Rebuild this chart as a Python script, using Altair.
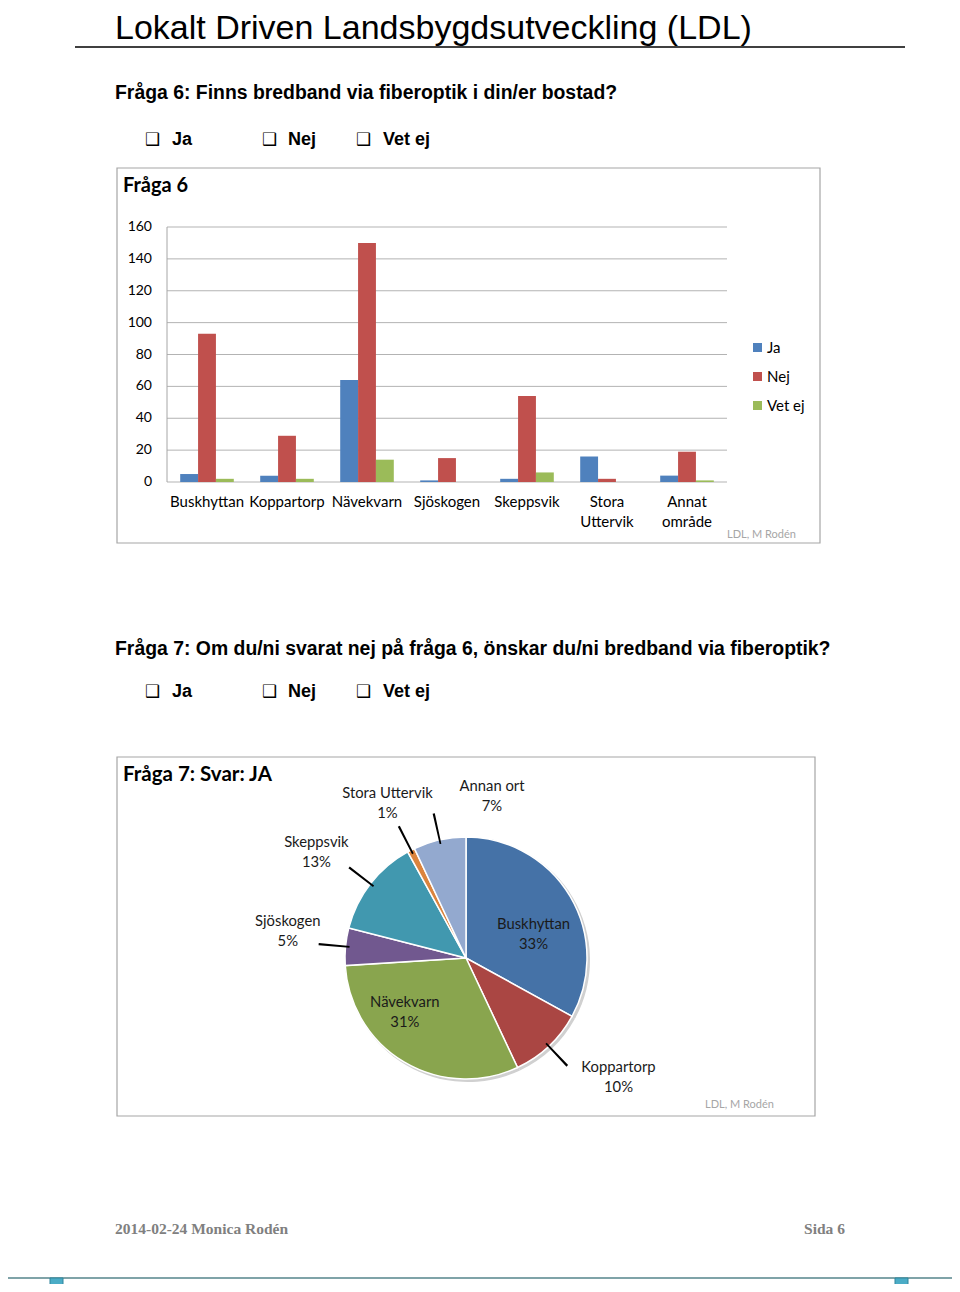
import altair as alt
import pandas as pd

# ---------------- data ----------------
# Fråga 6 (grouped bars)
areas = ["Buskhyttan", "Koppartorp", "Nävekvarn", "Sjöskogen", "Skeppsvik", "Stora Uttervik", "Annat område"]
area_labels = ["Buskhyttan", "Koppartorp", "Nävekvarn", "Sjöskogen", "Skeppsvik", "Stora\nUttervik", "Annat\nområde"]
answers = ["Ja", "Nej", "Vet ej"]
ja = [5, 4, 64, 1, 2, 16, 4]
nej = [93, 29, 150, 15, 54, 2, 19]
vet_ej = [2, 2, 14, 0, 6, 0, 1]
y_ticks = [0, 20, 40, 60, 80, 100, 120, 140, 160]

# Fråga 7 (pie, percent)
pie_cats = ["Buskhyttan", "Koppartorp", "Nävekvarn", "Sjöskogen", "Skeppsvik", "Stora Uttervik", "Annan ort"]
pie_pct = [33, 10, 31, 5, 13, 1, 7]

# ---------------- styles ----------------
bar_colors = ["#4F81BD", "#C0504D", "#9BBB59"]
pie_colors = ["#4572A7", "#AA4643", "#89A54E", "#71588F", "#4198AF", "#DB843D", "#93A9CF"]
CHART_FONT = "Lato"
DOC_FONT = "Liberation Sans"

bar_df = pd.DataFrame(
    [{"area": a, "answer": ans, "value": v}
     for ans, vals in zip(answers, [ja, nej, vet_ej])
     for a, v in zip(areas, vals)]
)
lab_df = pd.DataFrame({"area": areas, "label": area_labels})
tick_df = pd.DataFrame({"v": y_ticks})
pie_df = pd.DataFrame({"cat": pie_cats, "pct": pie_pct, "order": list(range(len(pie_cats)))})
one = pd.DataFrame({"k": [0]})

xs = alt.Scale(domain=areas, range=[159, 719], paddingInner=0.33, paddingOuter=0.165)
ys = alt.Scale(domain=[0, 160], range=[474, 219])


def txt(s, x, y, size, weight="normal", font=CHART_FONT, color="#000000", align="left", baseline="alphabetic"):
    return alt.Chart(one).mark_text(
        text=s, fontSize=size, fontWeight=weight, font=font, color=color,
        align=align, baseline=baseline
    ).encode(x=alt.value(x), y=alt.value(y))


def box(x1, x2, y1, y2, stroke="#A6A6A6", width=1.2, fill=None):
    kw = dict(stroke=stroke, strokeWidth=width)
    if fill:
        kw["fill"] = fill
    else:
        kw["fillOpacity"] = 0
    return alt.Chart(one).mark_rect(**kw).encode(
        x=alt.value(x1), x2=alt.value(x2), y=alt.value(y1), y2=alt.value(y2))


def checkboxes(y):
    layers = []
    for bx, lx, s in [(137, 164, "Ja"), (254, 280, "Nej"), (348, 375, "Vet ej")]:
        layers.append(txt("\u2751", bx, y, 17, font="DejaVu Sans"))
        layers.append(txt(s, lx, y, 18, weight="bold", font=DOC_FONT))
    return layers


# ---------------- header ----------------
header = [
    txt("Lokalt Driven Landsbygdsutveckling (LDL)", 107, 31, 34, font=DOC_FONT),
    alt.Chart(one).mark_rule(color="#000000", strokeWidth=1.5).encode(
        x=alt.value(67), x2=alt.value(897), y=alt.value(39)),
    txt("Fråga 6: Finns bredband via fiberoptik i din/er bostad?", 107, 91, 19.4, weight="bold", font=DOC_FONT),
    *checkboxes(137),
    txt("Fråga 7: Om du/ni svarat nej på fråga 6, önskar du/ni bredband via fiberoptik?", 107, 647, 19.4,
        weight="bold", font=DOC_FONT),
    *checkboxes(689),
]

# ---------------- bar chart (Fråga 6) ----------------
grid = alt.Chart(tick_df).mark_rule(color="#B3B3B3", strokeWidth=1).encode(
    y=alt.Y("v:Q", scale=ys, axis=None), x=alt.value(159), x2=alt.value(719))
yaxis_line = alt.Chart(one).mark_rule(color="#A6A6A6", strokeWidth=1).encode(
    x=alt.value(159), y=alt.Y(datum=0, scale=ys, axis=None), y2=alt.datum(160))
ylabels = alt.Chart(tick_df).mark_text(align="right", baseline="middle", fontSize=14, font=CHART_FONT,
                                        color="#000000").encode(
    y=alt.Y("v:Q", scale=ys, axis=None), x=alt.value(144), text="v:Q")
xlabels = alt.Chart(lab_df).mark_text(align="center", baseline="top", fontSize=15, font=CHART_FONT,
                                       lineBreak="\n", lineHeight=20, color="#000000").encode(
    x=alt.X("area:N", scale=xs, axis=None, sort=areas), y=alt.value(487), text="label:N")
bars = alt.Chart(bar_df).mark_bar().encode(
    x=alt.X("area:N", scale=xs, axis=None, sort=areas),
    xOffset=alt.XOffset("answer:N", sort=answers, scale=alt.Scale(domain=answers, paddingInner=0, paddingOuter=0)),
    y=alt.Y("value:Q", scale=ys, axis=None, stack=None),
    color=alt.Color("answer:N", scale=alt.Scale(domain=answers, range=bar_colors),
                    legend=alt.Legend(title=None, orient="none", legendX=742, legendY=332,
                                      symbolType="square", symbolSize=81, symbolStrokeWidth=0,
                                      labelFont=CHART_FONT, labelFontSize=15, labelColor="#000000",
                                      labelOffset=2, rowPadding=13, padding=0)),
)
bar_section = [
    box(109, 812, 160, 535),
    txt("Fråga 6", 115, 184, 20, weight="bold"),
    grid, yaxis_line, ylabels, xlabels, bars,
    txt("LDL, M Rodén", 719, 530, 11, color="#A6A6A6"),
]

# ---------------- pie chart (Fråga 7) ----------------
CX, CY, R = 458, 950, 121
pie_label_layout = {  # radius, dx, dy
    "Buskhyttan": (75, 3, 5),
    "Koppartorp": (195, 19, -32),
    "Nävekvarn": (75, -23, -20),
    "Sjöskogen": (180, 1, -19),
    "Skeppsvik": (183, -5, -3),
    "Stora Uttervik": (173, 0, -10),
    "Annan ort": (165, 62, -10),
}
outside = ["Koppartorp", "Sjöskogen", "Skeppsvik", "Stora Uttervik", "Annan ort"]

ts = alt.Scale(domain=[0, 100])
pie_base = alt.Chart(pie_df).transform_window(
    end="sum(pct)", sort=[alt.SortField("order")], frame=[None, 0]
).transform_calculate(
    start="datum.end - datum.pct",
    mid="(datum.end + datum.pct / 2) - datum.pct",
    l0="datum.mid - 0.12",
    l1="datum.mid + 0.12",
    lab="datum.cat + '\\n' + datum.pct + '%'",
)
shadow = pie_base.mark_arc(radius=R + 1, color="#D0D0D0").encode(
    theta=alt.Theta("start:Q", scale=ts), theta2="end:Q",
    x=alt.value(CX + 2), y=alt.value(CY + 2))
slices = pie_base.mark_arc(radius=R, stroke="#FFFFFF", strokeWidth=1.5).encode(
    theta=alt.Theta("start:Q", scale=ts), theta2="end:Q",
    color=alt.Color("cat:N", scale=alt.Scale(domain=pie_cats, range=pie_colors), legend=None),
    x=alt.value(CX), y=alt.value(CY))
leaders = pie_base.transform_filter(
    alt.FieldOneOfPredicate(field="cat", oneOf=outside)
).mark_arc(radius=148, radius2=117, color="#000000").encode(
    theta=alt.Theta("l0:Q", scale=ts), theta2="l1:Q", x=alt.value(CX), y=alt.value(CY))
pie_labels = []
for cat, (rad, dx, dy) in pie_label_layout.items():
    pie_labels.append(
        pie_base.transform_filter(alt.datum.cat == cat).mark_text(
            radius=rad, dx=dx, dy=dy, align="center", baseline="middle", fontSize=14.8,
            font=CHART_FONT, lineBreak="\n", lineHeight=20, color="#1A1A1A"
        ).encode(theta=alt.Theta("mid:Q", scale=ts), text="lab:N", x=alt.value(CX), y=alt.value(CY))
    )
pie_section = alt.layer(
    box(109, 807, 749, 1108),
    txt("Fråga 7: Svar: JA", 115, 773, 20.5, weight="bold"),
    shadow, slices, leaders, *pie_labels,
    txt("LDL, M Rodén", 697, 1100, 11, color="#A6A6A6"),
)

# ---------------- footer ----------------
footer = [
    txt("2014-02-24 Monica Rodén", 107, 1226, 15.5, weight="bold", font="Liberation Serif", color="#808080"),
    txt("Sida 6", 837, 1226, 15.5, weight="bold", font="Liberation Serif", color="#808080", align="right"),
    alt.Chart(one).mark_rule(color="#7FA3A8", strokeWidth=2).encode(
        x=alt.value(-8), x2=alt.value(952), y=alt.value(1270)),
    box(42, 55, 1270, 1284, stroke="#31859C", width=1, fill="#4BACC6"),
    box(887, 900, 1270, 1284, stroke="#31859C", width=1, fill="#4BACC6"),
]

chart = alt.layer(
    *header, *bar_section, pie_section, *footer
).resolve_scale(color="independent").properties(
    width=944, height=1276, padding=0, autosize="none", background="#FFFFFF"
).configure_view(strokeWidth=0, stroke="transparent")

chart.save("out.html", embed_options={"renderer": "svg", "actions": False})
